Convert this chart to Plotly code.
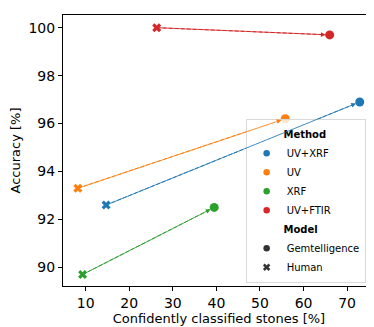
import plotly.graph_objects as go

methods = ["UV+XRF", "UV", "XRF", "UV+FTIR"]
colors = ["#1f77b4", "#ff7f0e", "#2ca02c", "#d62728"]
human_x = [14.7, 8.2, 9.3, 26.3]
human_y = [92.6, 93.3, 89.7, 100.0]
gem_x = [72.9, 55.8, 39.5, 66.0]
gem_y = [96.9, 96.2, 92.5, 99.7]
models = ["Gemtelligence", "Human"]

fig = go.Figure()

# dashed connecting lines human -> gemtelligence
for i, m in enumerate(methods):
    fig.add_trace(go.Scatter(x=[human_x[i], gem_x[i]], y=[human_y[i], gem_y[i]],
                             mode="lines", line=dict(color=colors[i], width=1, dash="4px,2px"),
                             showlegend=False, hoverinfo="skip"))
    fig.add_annotation(x=gem_x[i], y=gem_y[i], ax=human_x[i], ay=human_y[i],
                       xref="x", yref="y", axref="x", ayref="y", text="",
                       showarrow=True, arrowhead=2, arrowsize=1.2, arrowwidth=0.8,
                       arrowcolor=colors[i], standoff=4)

# markers
for i, m in enumerate(methods):
    fig.add_trace(go.Scatter(x=[gem_x[i]], y=[gem_y[i]], mode="markers",
                             marker=dict(color=colors[i], size=9, symbol="circle"),
                             showlegend=False))
    fig.add_trace(go.Scatter(x=[human_x[i]], y=[human_y[i]], mode="markers",
                             marker=dict(color=colors[i], size=8, symbol="x"),
                             showlegend=False))

# legend entries
pad = "&nbsp;" * 10
for i, m in enumerate(methods):
    fig.add_trace(go.Scatter(x=[None], y=[None], mode="markers", name=m,
                             marker=dict(color=colors[i], size=6.5, symbol="circle"),
                             legendgroup="method",
                             legendgrouptitle=dict(text=pad + "<b>Method</b>") if i == 0 else None))
for j, md in enumerate(models):
    fig.add_trace(go.Scatter(x=[None], y=[None], mode="markers", name=md,
                             marker=dict(color="#333333", size=6.5,
                                         symbol="circle" if j == 0 else "x"),
                             legendgroup="model",
                             legendgrouptitle=dict(text=pad + "<b>Model</b>") if j == 0 else None))

axis_common = dict(showline=True, mirror=True, linecolor="black", linewidth=1,
                   ticks="outside", ticklen=4, tickcolor="black", showgrid=False,
                   zeroline=False, tickfont=dict(size=14, color="black"))

fig.update_layout(
    width=374, height=327,
    margin=dict(l=53, r=6, t=7, b=49),
    plot_bgcolor="white", paper_bgcolor="white",
    font=dict(family="DejaVu Sans", color="black"),
    xaxis=dict(range=[4.8, 76.4], tickvals=[10, 20, 30, 40, 50, 60, 70],
               title=dict(text="Confidently classified stones [%]", font=dict(size=13), standoff=3),
               **axis_common),
    yaxis=dict(range=[89.22, 100.53], tickvals=[90, 92, 94, 96, 98, 100],
               title=dict(text="Accuracy [%]", font=dict(size=13), standoff=5),
               **axis_common),
    legend=dict(x=0.97, y=0.012, xanchor="right", yanchor="bottom",
                bgcolor="rgba(255,255,255,0.8)", bordercolor="#d9d9d9", borderwidth=1,
                font=dict(size=10), tracegroupgap=0, itemsizing="trace", itemwidth=30,
                grouptitlefont=dict(size=10)),
)

fig.write_html("out.html")
